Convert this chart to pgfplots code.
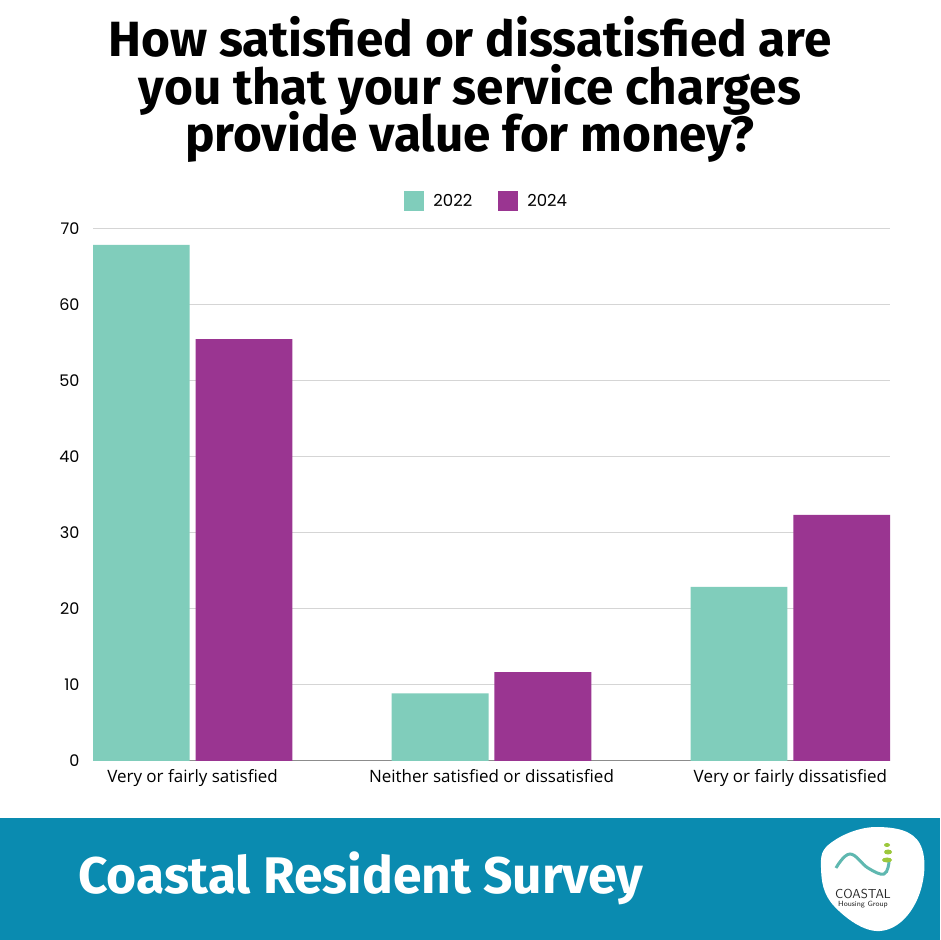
\documentclass[border=0pt]{standalone}
\usepackage{pgfplots}
\pgfplotsset{compat=1.18}
\usepackage{fontspec}
\setmainfont{Poppins}
\newfontfamily\titlefont{Fira Sans}
\newfontfamily\catfont{Open Sans}
\definecolor{teal22}{HTML}{80CDBB}
\definecolor{purp24}{HTML}{9A3591}
\definecolor{banner}{HTML}{0A8BB0}
\definecolor{gridc}{HTML}{D5D5D5}
\definecolor{axc}{HTML}{8C8C8C}
\definecolor{wave}{HTML}{5FB8B0}
\definecolor{dotg}{HTML}{9CC83C}
\begin{document}
\begin{tikzpicture}[x=1pt,y=1pt]
\path[use as bounding box] (0,0) rectangle (940,940);
\fill[white] (0,0) rectangle (940,940);
% title
\node[anchor=base, font=\titlefont\bfseries\fontsize{49.5}{49.5}\selectfont] at (470,883) {How satisfied or dissatisfied are};
\node[anchor=base, font=\titlefont\bfseries\fontsize{49.5}{49.5}\selectfont] at (470,835) {you that your service charges};
\node[anchor=base, font=\titlefont\bfseries\fontsize{49.5}{49.5}\selectfont] at (470,788) {provide value for money?};
% banner
\fill[banner] (0,0) rectangle (940,122);
\node[anchor=base west, inner sep=0pt, text=white, font=\titlefont\bfseries\fontsize{51.5}{51.5}\selectfont] at (78,46) {Coastal Resident Survey};
% logo
\fill[white] plot[smooth cycle, tension=0.7] coordinates {(832,98) (878,113) (920,96) (917,40) (880,9) (834,34) (821,72)};
\draw[wave, line width=3pt] plot[smooth, tension=0.7] coordinates {(836,72) (850,86) (868,72) (884,66) (889,78)};
\fill[dotg] (887,95) ellipse (3pt and 2pt);
\fill[dotg] (888,88) ellipse (4pt and 2.5pt);
\fill[dotg] (887,80) ellipse (5pt and 2.5pt);
\node[font=\sffamily\fontsize{13}{13}\selectfont, text=black!85, inner sep=0pt] at (863,46) {COASTAL};
\node[font=\sffamily\fontsize{7.5}{7.5}\selectfont, text=black!85, inner sep=0pt] at (863,35) {Housing Group};
\begin{axis}[
  at={(93pt,179pt)}, anchor=south west,
  width=797pt, height=532pt, scale only axis,
  ybar, bar width=0.324,
  xmin=-0.333, xmax=2.333, ymin=0, ymax=70,
  xtick={0,1,2},
  xticklabels={Very or fairly satisfied, Neither satisfied or dissatisfied, Very or fairly dissatisfied},
  ytick={0,10,...,70},
  ymajorgrids, grid style={gridc, line width=1pt},
  separate axis lines,
  axis x line*=bottom, axis y line*=left,
  x axis line style={axc, line width=1pt, -},
  y axis line style={draw=none},
  major tick length=0pt,
  /pgf/number format/assume math mode=true,
  yticklabel style={font=\fontsize{16}{16}\selectfont, anchor=east, xshift=-10pt},
  xticklabel style={font=\catfont\fontsize{17}{17}\selectfont, yshift=-5pt},
  legend columns=2,
  legend style={draw=none, fill=none, at={(0.494,1.0526)}, anchor=center,
    font=\fontsize{16.5}{16.5}\selectfont,
    /tikz/every even column/.append style={column sep=24pt}},
  legend image code/.code={\fill[#1, draw=none] (0pt,-10pt) rectangle (20pt,10pt); \path (27pt,0pt);},
]
\addplot[fill=teal22, draw=none, bar shift=-0.172] coordinates {(0,67.9) (1,8.9) (2,22.9)};
\addplot[fill=purp24, draw=none, bar shift=0.172] coordinates {(0,55.5) (1,11.7) (2,32.4)};
\legend{2022, 2024}
\end{axis}
\end{tikzpicture}
\end{document}
